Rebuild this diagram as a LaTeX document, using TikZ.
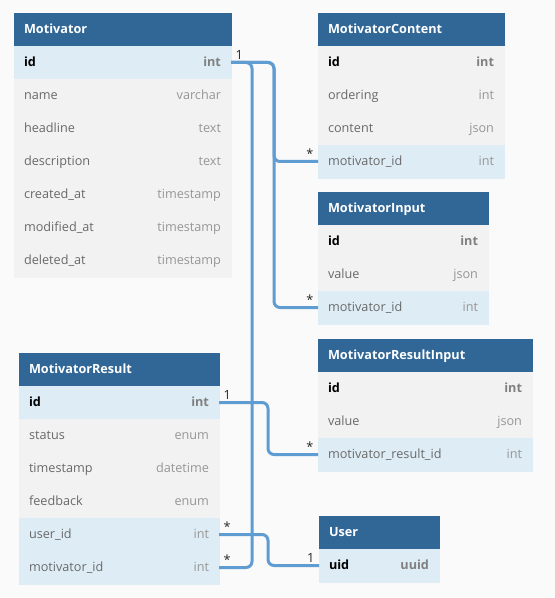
\documentclass[tikz,border=0pt]{standalone}
\usepackage{fontspec}
\setmainfont{Open Sans}
\usetikzlibrary{positioning}

\definecolor{hdrblue}{RGB}{49,103,150}
\definecolor{keyblue}{RGB}{222,237,245}
\definecolor{rowgray}{RGB}{242,242,242}
\definecolor{linkblue}{RGB}{94,156,210}
\definecolor{namegray}{RGB}{105,105,105}
\definecolor{typegray}{RGB}{150,150,150}
\definecolor{bggray}{RGB}{250,250,250}

\newcommand{\ty}[1]{\hfill\textcolor{typegray}{#1}}
\newcommand{\pk}[2]{\textbf{\color{black}#1}\hfill\textbf{\color{typegray!85!black}#2}}

\tikzset{
  cell/.style={inner xsep=7.5pt, inner ysep=0pt, outer sep=0pt,
    minimum height=24.75pt, line width=0.3pt,
    text height=0.75em, text depth=0.17em, align=left,
    font=\fontsize{9.5pt}{11pt}\selectfont},
  hdr/.style={cell, fill=hdrblue, draw=hdrblue, text=white,
    font=\fontsize{9.5pt}{11pt}\selectfont\bfseries},
  fld/.style={cell, fill=rowgray, draw=rowgray, text=namegray},
  keyfld/.style={cell, fill=keyblue, draw=keyblue, text=namegray},
  link/.style={draw=linkblue, line width=2.25pt, rounded corners=4.5pt},
  card/.style={inner sep=1pt, text=black!85,
    font=\fontsize{9.5pt}{11pt}\selectfont},
}

\begin{document}
\begin{tikzpicture}[x=0.75pt, y=-0.75pt]

    \fill[bggray] (0,0) rectangle (555,598);
    \useasboundingbox (0,0) rectangle (555,598);

    % Motivator
    \begin{scope}[every node/.append style={text width=147.75pt}]
    \node[hdr, anchor=north west] (mot) at (14,13) {Motivator};
    \node[keyfld, below=0pt of mot] (mot-id) {\pk{id}{int}};
    \node[fld, below=0pt of mot-id] (mot-name) {name\ty{varchar}};
    \node[fld, below=0pt of mot-name] (mot-head) {headline\ty{text}};
    \node[fld, below=0pt of mot-head] (mot-desc) {description\ty{text}};
    \node[fld, below=0pt of mot-desc] (mot-cre) {created\_at\ty{timestamp}};
    \node[fld, below=0pt of mot-cre] (mot-mod) {modified\_at\ty{timestamp}};
    \node[fld, below=0pt of mot-mod] (mot-del) {deleted\_at\ty{timestamp}};
    \end{scope}

    % MotivatorContent
    \begin{scope}[every node/.append style={text width=124.5pt}]
    \node[hdr, anchor=north west] (mc) at (318,13) {MotivatorContent};
    \node[fld, below=0pt of mc] (mc-id) {\pk{id}{int}};
    \node[fld, below=0pt of mc-id] (mc-ord) {ordering\ty{int}};
    \node[fld, below=0pt of mc-ord] (mc-con) {content\ty{json}};
    \node[keyfld, below=0pt of mc-con] (mc-mid) {motivator\_id\ty{int}};
    \end{scope}

    % MotivatorInput
    \begin{scope}[every node/.append style={text width=112.5pt}]
    \node[hdr, anchor=north west] (mi) at (318,192) {MotivatorInput};
    \node[fld, below=0pt of mi] (mi-id) {\pk{id}{int}};
    \node[fld, below=0pt of mi-id] (mi-val) {value\ty{json}};
    \node[keyfld, below=0pt of mi-val] (mi-mid) {motivator\_id\ty{int}};
    \end{scope}

    % MotivatorResult
    \begin{scope}[every node/.append style={text width=135pt}]
    \node[hdr, anchor=north west] (mr) at (19,353) {MotivatorResult};
    \node[keyfld, below=0pt of mr] (mr-id) {\pk{id}{int}};
    \node[fld, below=0pt of mr-id] (mr-stat) {status\ty{enum}};
    \node[fld, below=0pt of mr-stat] (mr-ts) {timestamp\ty{datetime}};
    \node[fld, below=0pt of mr-ts] (mr-fb) {feedback\ty{enum}};
    \node[keyfld, below=0pt of mr-fb] (mr-uid) {user\_id\ty{int}};
    \node[keyfld, below=0pt of mr-uid] (mr-mid) {motivator\_id\ty{int}};
    \end{scope}

    % MotivatorResultInput
    \begin{scope}[every node/.append style={text width=145.5pt}]
    \node[hdr, anchor=north west] (mri) at (318,339) {MotivatorResultInput};
    \node[fld, below=0pt of mri] (mri-id) {\pk{id}{int}};
    \node[fld, below=0pt of mri-id] (mri-val) {value\ty{json}};
    \node[keyfld, below=0pt of mri-val] (mri-rid) {motivator\_result\_id\ty{int}};
    \end{scope}

    % User
    \begin{scope}[every node/.append style={text width=75pt}]
    \node[hdr, anchor=north west] (usr) at (319,516) {User};
    \node[keyfld, below=0pt of usr] (usr-uid) {\pk{uid}{uuid}};
    \end{scope}

    % relations
    \draw[link] (mot-id.east) -- ++(43,0) |- (mc-mid.west);
    \draw[link] (mot-id.east) -- ++(43,0) |- (mi-mid.west);
    \draw[link] (mot-id.east) -- ++(21,0) |- (mr-mid.east);
    \draw[link] (mr-id.east) -- ++(49,0) |- (mri-rid.west);
    \draw[link] (mr-uid.east) -- ++(49,0) |- (usr-uid.west);

    \node[card, anchor=west] (c-mot) at ([shift={(3,-7.5)}]mot-id.east) {1};
    \node[card, anchor=east] (c-mc) at ([shift={(-3,-7.5)}]mc-mid.west) {*};
    \node[card, anchor=east] (c-mi) at ([shift={(-3,-7.5)}]mi-mid.west) {*};
    \node[card, anchor=west] (c-mrm) at ([shift={(3,-7.5)}]mr-mid.east) {*};
    \node[card, anchor=west] (c-mr) at ([shift={(3,-7.5)}]mr-id.east) {1};
    \node[card, anchor=east] (c-mri) at ([shift={(-3,-7.5)}]mri-rid.west) {*};
    \node[card, anchor=west] (c-mru) at ([shift={(3,-7.5)}]mr-uid.east) {*};
    \node[card, anchor=east] (c-usr) at ([shift={(-3,-7.5)}]usr-uid.west) {1};
\end{tikzpicture}
\end{document}
